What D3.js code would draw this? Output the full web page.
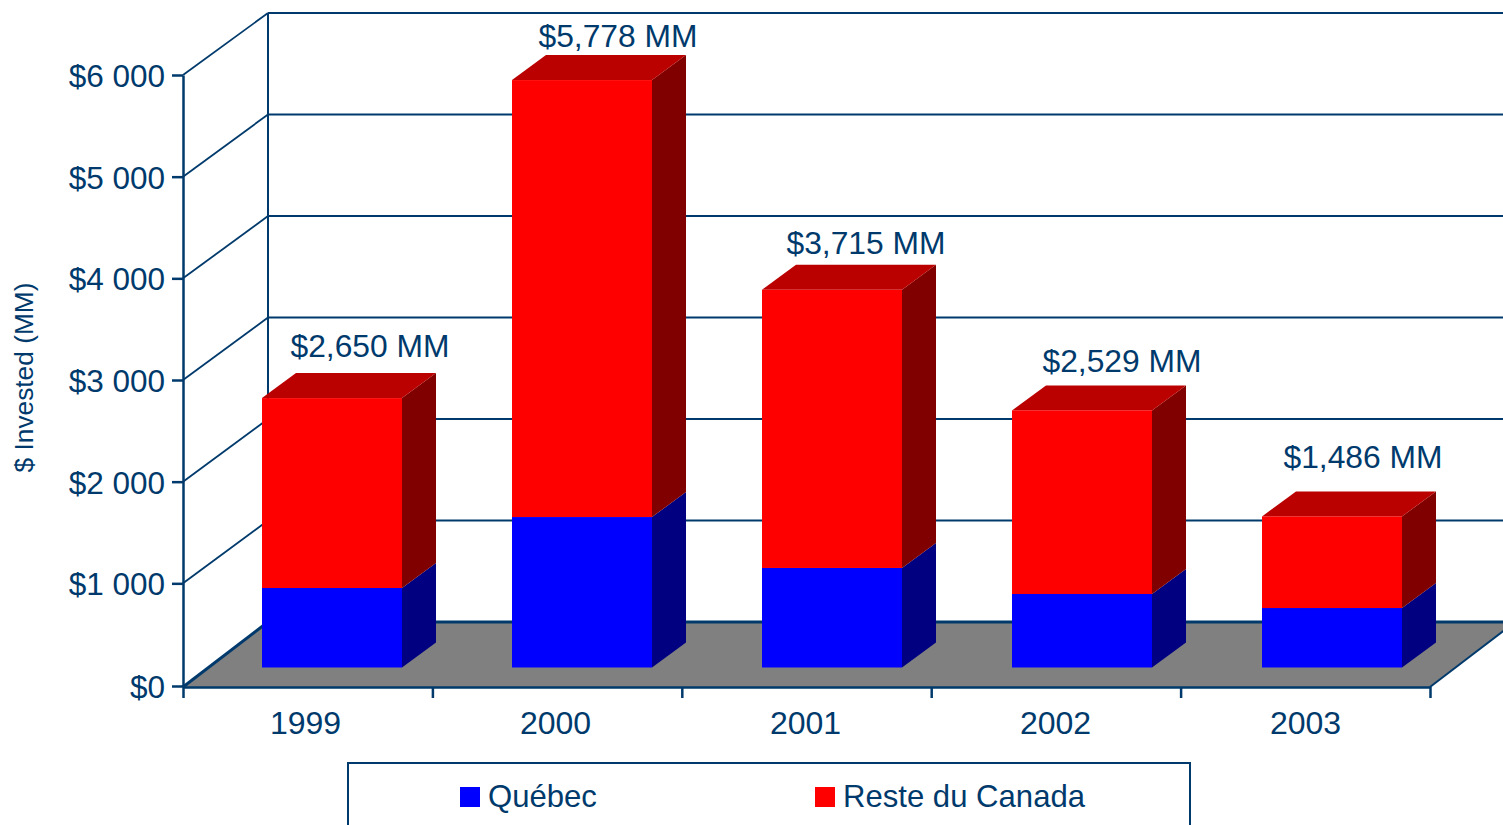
<!DOCTYPE html>
<html>
<head>
<meta charset="utf-8">
<script src="https://cdn.jsdelivr.net/npm/d3@7"></script>
<style>
  html, body { margin: 0; padding: 0; background: #fff; overflow: hidden; }
  svg { display: block; }
  text { font-family: "Liberation Sans", Arial, sans-serif; fill: #003a6c; }
  .axis path, .axis line { stroke: #003a6c; }
  .y.axis text { font-size: 31.5px; }
  .labels text { font-size: 32px; }
</style>
</head>
<body>
<script>
(function () {
  'use strict'

  var years = ['1999', '2000', '2001', '2002', '2003']
  var quebec = [782, 1480, 979, 723, 585]
  var resteDuCanada = [1868, 4298, 2736, 1806, 901]
  var yTicks = [0, 1000, 2000, 3000, 4000, 5000, 6000]
  var seriesNames = ['Québec', 'Reste du Canada']

  var navy = '#003a6c'
  var dim = { w: 1503, h: 825 }

  // Front plane of the box, back wall sits up and to the right of it
  var x = d3.scaleBand().domain(years).range([183, 1433])
    .paddingInner(0.44).paddingOuter(0.22)
  var slots = d3.scaleLinear().domain([0, years.length]).range([183, 1430])
  var y = d3.scaleLinear().domain([0, 6000]).range([685, 75])
  var yBack = d3.scaleLinear().domain([0, 6000]).range([622, 13])
  var wallDx = 85

  // The floor edge sits a little under the zero of the value scale
  var floorY = 687

  // Bars stand a bit inside the floor
  var inset = { x: 24, y: 19.5 }
  var side = { x: 34, y: 25 }

  // Hand placed in the original, so each label gets its own nudge
  var labelDx = [38, 36, 34, 40, 31]
  var labelDy = [-41, -33, -36, -38, -48]

  var svg = d3.select('body').append('svg')
    .attr('width', dim.w)
    .attr('height', dim.h)

  plotWalls()
  plotBars()
  plotAxes()
  plotLabels()
  plotLegend()

  function poly (points) {
    return points.map(function (p) { return p.join(',') }).join(' ')
  }

  function frontY (d) {
    return d === 0 ? floorY : y(d)
  }

  function plotWalls () {
    var g = svg.append('g').attr('class', 'walls')

    g.append('polygon')
      .attr('points', poly([
        [slots(0), floorY], [slots(5), floorY],
        [slots(5) + wallDx, yBack(0)], [slots(0) + wallDx, yBack(0)]
      ]))
      .attr('fill', '#808080')

    g.selectAll('.grid').data(yTicks)
      .enter().append('line')
        .attr('class', 'grid')
        .attr('x1', slots(0) + wallDx)
        .attr('x2', slots(5) + wallDx)
        .attr('y1', function (d) { return yBack(d) })
        .attr('y2', function (d) { return yBack(d) })
        .attr('stroke', navy)
        .attr('stroke-width', function (d) { return d === 0 ? 3 : 2 })

    g.selectAll('.diag').data(yTicks)
      .enter().append('line')
        .attr('class', 'diag')
        .attr('x1', slots(0))
        .attr('x2', slots(0) + wallDx)
        .attr('y1', frontY)
        .attr('y2', function (d) { return yBack(d) })
        .attr('stroke', navy)
        .attr('stroke-width', function (d) { return d === 0 ? 3 : 1.8 })

    g.append('line')
      .attr('x1', slots(0) + wallDx).attr('x2', slots(0) + wallDx)
      .attr('y1', yBack(6000)).attr('y2', yBack(0))
      .attr('stroke', navy).attr('stroke-width', 2)

    g.append('line')
      .attr('x1', slots(5)).attr('x2', slots(5) + wallDx)
      .attr('y1', floorY).attr('y2', yBack(0))
      .attr('stroke', navy).attr('stroke-width', 2)
  }

  function plotBars () {
    var bars = svg.selectAll('.bar').data(years)
      .enter().append('g')
        .attr('class', 'bar')

    bars.each(function (year, i) {
      var g = d3.select(this)
      var left = x(year) + inset.x
      var right = left + x.bandwidth()
      var base = floorY - inset.y
      var mid = base - (y(0) - y(quebec[i]))
      var top = base - (y(0) - y(quebec[i] + resteDuCanada[i]))

      g.append('polygon')
        .attr('points', poly([[right, base], [right + side.x, base - side.y],
          [right + side.x, mid - side.y], [right, mid]]))
        .attr('fill', '#000080')
      g.append('polygon')
        .attr('points', poly([[right, mid], [right + side.x, mid - side.y],
          [right + side.x, top - side.y], [right, top]]))
        .attr('fill', '#800000')
      g.append('polygon')
        .attr('points', poly([[left, top], [right, top],
          [right + side.x, top - side.y], [left + side.x, top - side.y]]))
        .attr('fill', '#bb0000')
      g.append('rect')
        .attr('x', left).attr('y', mid)
        .attr('width', x.bandwidth()).attr('height', base - mid)
        .attr('fill', '#0000ff')
      g.append('rect')
        .attr('x', left).attr('y', top)
        .attr('width', x.bandwidth()).attr('height', mid - top)
        .attr('fill', '#ff0000')
    })
  }

  function plotAxes () {
    var fmt = d3.formatLocale({ thousands: ' ', grouping: [3], currency: ['$', ''], decimal: '.' })
      .format('$,')

    var left = svg.append('g')
      .attr('class', 'y axis')
      .attr('transform', 'translate(' + slots(0) + ',0)')
      .call(d3.axisLeft(y).tickValues(yTicks).tickFormat(fmt)
        .tickSize(11).tickPadding(7).tickSizeOuter(0))
    left.selectAll('path, line').attr('stroke-width', 2.5)
    left.selectAll('text').attr('dy', '0.36em')
    left.selectAll('.tick').filter(function (d) { return d === 0 })
      .attr('transform', 'translate(0,' + (floorY - 0.5) + ')')
    left.append('line')
      .attr('y1', y(0)).attr('y2', floorY)
      .attr('stroke-width', 2.5)

    var ticks = svg.append('g')
      .attr('class', 'x axis')
      .attr('transform', 'translate(0,' + floorY + ')')
      .call(d3.axisBottom(slots).ticks(years.length).tickFormat('')
        .tickSize(11).tickSizeOuter(0))
    ticks.selectAll('path, line').attr('stroke-width', 2.5)

    var labels = svg.append('g')
      .attr('class', 'x axis labels')
      .attr('transform', 'translate(-2.5,' + floorY + ')')
      .call(d3.axisBottom(x).tickSize(0).tickPadding(24))
    labels.select('.domain').remove()

    svg.append('text')
      .attr('transform', 'translate(33,377.5) rotate(-90)')
      .attr('text-anchor', 'middle')
      .style('font-size', '26.3px')
      .text('$ Invested (MM)')
  }

  function plotLabels () {
    var fmt = d3.format('$,')

    svg.selectAll('.total').data(years)
      .enter().append('text')
        .attr('class', 'total')
        .attr('x', function (d, i) {
          return x(d) + inset.x + x.bandwidth() / 2 + labelDx[i]
        })
        .attr('y', function (d, i) {
          return floorY - inset.y - (y(0) - y(quebec[i] + resteDuCanada[i])) + labelDy[i]
        })
        .attr('text-anchor', 'middle')
        .style('font-size', '31.8px')
        .text(function (d, i) { return fmt(quebec[i] + resteDuCanada[i]) + ' MM' })
  }

  function plotLegend () {
    var g = svg.append('g').attr('class', 'legend')

    g.append('rect')
      .attr('x', 348).attr('y', 763)
      .attr('width', 842).attr('height', 80)
      .attr('fill', '#fff')
      .attr('stroke', navy)
      .attr('stroke-width', 2)

    var items = g.selectAll('.item').data(seriesNames)
      .enter().append('g')
        .attr('class', 'item')
        .attr('transform', function (d, i) {
          return 'translate(' + (i ? 815 : 460) + ',787)'
        })

    items.append('rect')
      .attr('width', 20).attr('height', 20)
      .attr('fill', function (d, i) { return i ? '#ff0000' : '#0000ff' })

    items.append('text')
      .attr('x', 28).attr('y', 20)
      .style('font-size', '31.1px')
      .text(function (d) { return d })
  }
}())
</script>
</body>
</html>
